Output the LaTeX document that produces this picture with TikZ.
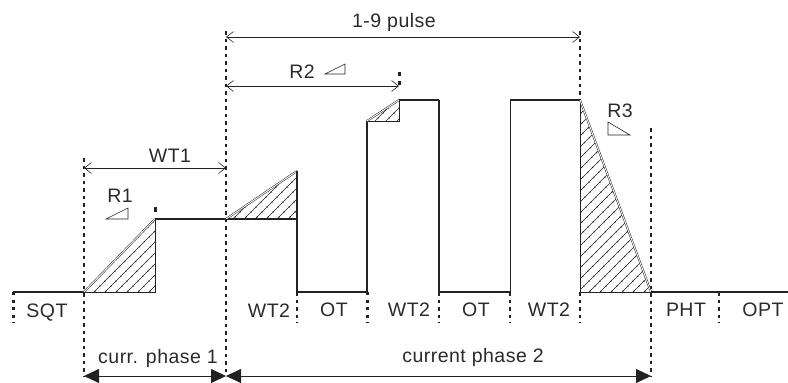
\documentclass[tikz,border=0pt]{standalone}
\usepackage{fontspec}
\setmainfont{Liberation Sans}
\usetikzlibrary{arrows.meta}
\definecolor{ink}{HTML}{222222}
\definecolor{txt}{HTML}{2A2A2A}
\begin{document}
\begin{tikzpicture}[x=1pt,y=-1pt,
  wave/.style={line width=1.3pt, draw=ink},
  boldw/.style={line width=2.6pt, draw=ink},
  thinw/.style={line width=0.5pt, draw=ink},
  hyp/.style={draw=ink, double=white, double distance=0.9pt, line width=0.5pt},
  dotsv/.style={line width=2.2pt, draw=ink, dash pattern=on 3.5pt off 4pt},
  bigdots/.style={line width=3pt, draw=ink, dash pattern=on 3pt off 4.5pt},
  dimar/.style={line width=0.6pt, draw=ink, {Straight Barb[length=7pt,width=11pt]}-{Straight Barb[length=7pt,width=11pt]}},
  phasear/.style={line width=0.8pt, draw=ink, {Triangle[length=15pt,width=14pt]}-{Triangle[length=15pt,width=14pt]}},
  lbl/.style={font=\fontsize{19.5}{22}\selectfont\addfontfeature{LetterSpace=2.5}, text=txt, inner sep=0pt, anchor=base},
  hatchl/.style={line width=0.4pt, draw=ink},
  hatchd/.style={line width=1.5pt, draw=ink, dash pattern=on 0pt off 7pt, line cap=round},
  tri/.style={line width=0.6pt, draw=ink},
]
\useasboundingbox (0,0) rectangle (788,383);

% key coordinates
\coordinate (b0) at (13,292);
\coordinate (r1s) at (84,292);
\coordinate (r1t) at (155,219);
\coordinate (r1b) at (155,292);
\coordinate (r2s) at (226,219);
\coordinate (r2t) at (297,171);
\coordinate (r2c) at (297,219);
\coordinate (p1b) at (297,292);
\coordinate (p2b) at (367,292);
\coordinate (p2s) at (367,121);
\coordinate (p2t) at (399,100);
\coordinate (p2c) at (399,121);
\coordinate (p2e) at (439,100);
\coordinate (p2d) at (439,292);
\coordinate (p3b) at (510,292);
\coordinate (p3t) at (510,100);
\coordinate (r3s) at (580,100);
\coordinate (r3c) at (580,292);
\coordinate (r3e) at (651,292);
\coordinate (bend) at (788,292);

% hatching
\foreach \A/\B/\C in {r1s/r1t/r1b, r2s/r2t/r2c, p2s/p2t/p2c, r3s/r3e/r3c}{
  \begin{scope}
    \clip (\A) -- (\B) -- (\C) -- cycle;
    \foreach \i in {-300,-289,...,800}{
      \draw[hatchl] (\i,400) -- ++(400,-400);
      \draw[hatchd] (\i,400) -- ++(400,-400);
    }
  \end{scope}
  \draw[thinw] (\B) -- (\C) -- (\A);
}

% waveform
\draw[wave, line width=1.6pt] (b0) -- (r1s);
\draw[hyp] (r1s) -- (r1t);
\draw[wave] (r1t) -- (r2c);
\draw[wave] (r2c) -- (p1b);
\draw[hyp] (r2s) -- (r2t);
\draw[wave] (r2t) -- (r2c);
\draw[boldw] (p1b) -- (p2b);
\draw[wave, line width=1.8pt] (p2b) -- (p2s);
\draw[hyp] (p2s) -- (p2t);
\draw[wave] (p2t) -- (p2e);
\draw[boldw] (p2e) -- (p2d) -- (p3b);
\draw[wave, line width=1pt] (p3b) -- (p3t);
\draw[boldw] (p3t) -- (r3s);
\draw[hyp] (r3s) -- (r3e);
\draw[wave, line width=1.8pt] (r3e) -- (bend);

% vertical dotted markers
\coordinate (v13a) at (13,292);   \coordinate (v13b) at (13,323);
\coordinate (v84a) at (84,158);   \coordinate (v84b) at (84,376);
\coordinate (v155a) at (155,207); \coordinate (v155b) at (155,212);
\coordinate (v226a) at (226,31);  \coordinate (v226b) at (226,376);
\coordinate (v297a) at (297,292); \coordinate (v297b) at (297,323);
\coordinate (v367a) at (367,292); \coordinate (v367b) at (367,323);
\coordinate (v399a) at (399,72);  \coordinate (v399b) at (399,89);
\coordinate (v439a) at (439,292); \coordinate (v439b) at (439,323);
\coordinate (v510a) at (510,292); \coordinate (v510b) at (510,323);
\coordinate (v580a) at (580,31);  \coordinate (v580b) at (580,100);
\coordinate (v580c) at (580,292); \coordinate (v580d) at (580,323);
\coordinate (v651a) at (651,128); \coordinate (v651b) at (651,376);
\coordinate (v719a) at (719,292); \coordinate (v719b) at (719,323);

\draw[bigdots] (v13a) -- (v13b);
\draw[dotsv] (v84a) -- (v84b);
\draw[bigdots, dash pattern=on 5pt off 5pt] (v155a) -- (v155b);
\draw[dotsv, line width=2.6pt] (v226a) -- (v226b);
\draw[dotsv] (v297a) -- (v297b);
\draw[bigdots] (v367a) -- (v367b);
\draw[bigdots, dash pattern=on 4pt off 5pt] (v399a) -- (v399b);
\draw[dotsv] (v439a) -- (v439b);
\draw[dotsv] (v510a) -- (v510b);
\draw[dotsv] (v580a) -- (v580b);
\draw[dotsv] (v580c) -- (v580d);
\draw[dotsv] (v651a) -- (v651b);
\draw[dotsv] (v719a) -- (v719b);

% dimension arrows
\coordinate (w1a) at (84,168);  \coordinate (w1b) at (226,168);
\coordinate (p9a) at (226,37);  \coordinate (p9b) at (580,37);
\coordinate (r2a) at (226,86);  \coordinate (r2b) at (399,86);
\draw[dimar] (w1a) -- (w1b);
\draw[dimar] (p9a) -- (p9b);
\draw[dimar] (r2a) -- (r2b);

\coordinate (c1a) at (84,376);  \coordinate (c1b) at (226,376);
\coordinate (c2a) at (226,376); \coordinate (c2b) at (651,376);
\draw[phasear] (c1a) -- (c1b);
\draw[phasear] (c2a) -- (c2b);

% ramp symbols
\draw[tri] (106,219) -- (128,219) -- (128,208) -- cycle;
\draw[tri] (325,74) -- (345,74) -- (345,64) -- cycle;
\draw[tri] (608,122) -- (608,135) -- (630,135) -- cycle;

% labels
\node[lbl] (tWT1) at (170,162) {WT1};
\node[lbl] (tR1) at (120,202) {R1};
\node[lbl] (tSQT) at (47,317) {SQT};
\node[lbl] (tWT2a) at (269,317) {WT2};
\node[lbl] (tOTa) at (334,316) {OT};
\node[lbl] (tWT2b) at (409,316) {WT2};
\node[lbl] (tOTb) at (476,316) {OT};
\node[lbl] (tWT2c) at (549,316) {WT2};
\node[lbl] (tPHT) at (686,316) {PHT};
\node[lbl] (tOPT) at (763,316) {OPT};
\node[lbl] (tcp1) at (158,363) {curr. phase 1};
\node[lbl] (tcp2) at (473,362) {current phase 2};
\node[lbl] (tpulse) at (394,27) {1-9 pulse};
\node[lbl] (tR2) at (302,78) {R2};
\node[lbl] (tR3) at (620,117) {R3};
\end{tikzpicture}
\end{document}
